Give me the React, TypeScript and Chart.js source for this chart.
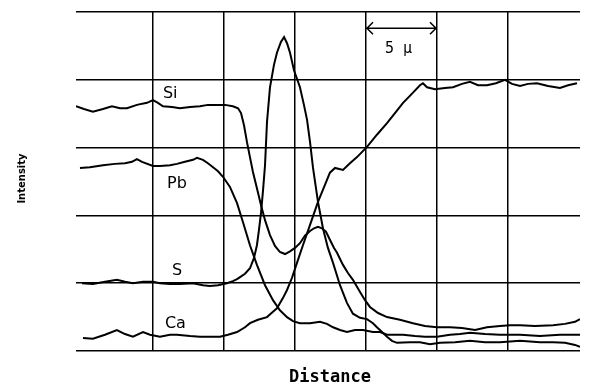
import { useEffect, useRef } from "react";
import { Chart, registerables } from "chart.js";

Chart.register(...registerables);

// Distance (µm) and intensity (grid divisions)
const siliconPoints: [number, number][] = [
  [-0.42, 3.61], [0.14, 3.57], [0.77, 3.53], [1.48, 3.57], [2.11, 3.61], [2.68, 3.58], [3.17, 3.58],
  [3.87, 3.63], [4.58, 3.66], [5.0, 3.7], [5.35, 3.66], [5.7, 3.61], [6.34, 3.6], [6.9, 3.58],
  [7.61, 3.6], [8.31, 3.61], [8.87, 3.63], [9.51, 3.63], [10.07, 3.63], [10.63, 3.61], [10.99, 3.58],
  [11.2, 3.51], [11.41, 3.33], [11.62, 3.08], [11.83, 2.86], [12.04, 2.64], [12.32, 2.4], [12.61, 2.15],
  [12.89, 1.93], [13.24, 1.71], [13.59, 1.55], [13.94, 1.46], [14.3, 1.43], [14.65, 1.47], [15.0, 1.52],
  [15.35, 1.59], [15.7, 1.7], [16.06, 1.77], [16.34, 1.81], [16.62, 1.83], [16.9, 1.81], [17.18, 1.76],
  [17.46, 1.64], [17.75, 1.52], [17.96, 1.45], [18.38, 1.27], [18.73, 1.15], [19.08, 1.05], [19.58, 0.87],
  [19.93, 0.75], [20.28, 0.65], [20.85, 0.56], [21.48, 0.5], [22.39, 0.46], [23.31, 0.41], [24.15, 0.37],
  [25.0, 0.35], [25.92, 0.35], [26.76, 0.34], [27.68, 0.31], [28.52, 0.35], [29.44, 0.37], [30.14, 0.38],
  [30.85, 0.38], [31.9, 0.37], [33.17, 0.38], [34.01, 0.4], [34.72, 0.43], [35.07, 0.47],
];

const leadPoints: [number, number][] = [
  [-0.14, 2.7], [0.56, 2.71], [1.48, 2.74], [2.32, 2.76], [3.03, 2.77], [3.52, 2.79], [3.87, 2.83],
  [4.23, 2.79], [5.0, 2.73], [5.49, 2.73], [6.2, 2.74], [6.69, 2.76], [7.25, 2.79], [7.82, 2.82],
  [8.1, 2.85], [8.52, 2.82], [8.87, 2.77], [9.23, 2.71], [9.58, 2.65], [9.93, 2.57], [10.42, 2.42],
  [10.92, 2.18], [11.34, 1.9], [11.83, 1.56], [12.32, 1.27], [12.89, 0.97], [13.45, 0.75], [13.94, 0.6],
  [14.44, 0.5], [14.86, 0.44], [15.35, 0.41], [16.06, 0.41], [16.76, 0.43], [17.25, 0.4], [17.68, 0.35],
  [18.17, 0.31], [18.66, 0.28], [19.23, 0.31], [19.79, 0.31], [20.49, 0.28], [20.99, 0.28], [21.48, 0.24],
  [22.04, 0.24], [22.61, 0.24], [23.45, 0.22], [24.15, 0.21], [25.0, 0.21], [25.92, 0.24], [26.62, 0.25],
  [27.32, 0.27], [28.38, 0.25], [29.44, 0.24], [30.85, 0.24], [32.25, 0.22], [33.66, 0.24], [35.07, 0.24],
];

const sulfurPoints: [number, number][] = [
  [0.0, 1.0], [0.77, 0.99], [1.62, 1.02], [2.46, 1.05], [3.03, 1.02], [3.59, 1.0], [4.3, 1.02],
  [5.0, 1.02], [5.49, 1.0], [6.2, 0.99], [6.9, 0.99], [7.82, 1.0], [8.52, 0.97], [9.01, 0.96],
  [9.58, 0.97], [10.21, 1.0], [10.63, 1.03], [10.92, 1.06], [11.13, 1.09], [11.48, 1.14], [11.83, 1.22],
  [12.11, 1.37], [12.32, 1.56], [12.46, 1.78], [12.61, 2.04], [12.75, 2.37], [12.89, 2.74], [13.03, 3.38],
  [13.24, 3.89], [13.52, 4.22], [13.73, 4.4], [14.01, 4.56], [14.23, 4.63], [14.44, 4.54], [14.65, 4.4],
  [14.93, 4.14], [15.35, 3.89], [15.63, 3.63], [15.85, 3.41], [16.06, 3.08], [16.27, 2.7], [16.62, 2.2],
  [16.97, 1.81], [17.32, 1.52], [17.68, 1.3], [18.17, 0.97], [18.66, 0.71], [19.08, 0.55], [19.58, 0.49],
  [20.07, 0.47], [20.49, 0.41], [20.77, 0.35], [21.13, 0.28], [21.48, 0.21], [21.83, 0.15], [22.18, 0.12],
  [23.1, 0.13], [23.8, 0.13], [24.51, 0.1], [25.21, 0.12], [26.27, 0.13], [27.32, 0.15], [28.38, 0.13],
  [29.44, 0.13], [30.85, 0.15], [32.25, 0.13], [33.17, 0.13], [34.01, 0.12], [34.72, 0.09], [35.07, 0.06],
];

const calciumPoints: [number, number][] = [
  [0.07, 0.19], [0.77, 0.18], [1.62, 0.24], [2.46, 0.31], [3.03, 0.25], [3.59, 0.21], [4.3, 0.28],
  [4.79, 0.24], [5.49, 0.21], [6.2, 0.24], [6.69, 0.24], [7.61, 0.22], [8.31, 0.21], [9.01, 0.21],
  [9.72, 0.21], [10.28, 0.24], [10.92, 0.28], [11.48, 0.35], [11.83, 0.41], [12.39, 0.46], [13.03, 0.5],
  [13.45, 0.58], [13.73, 0.63], [14.15, 0.78], [14.44, 0.9], [14.79, 1.08], [15.14, 1.3], [15.56, 1.56],
  [16.06, 1.86], [16.62, 2.2], [17.11, 2.45], [17.46, 2.63], [17.82, 2.7], [18.38, 2.67], [18.87, 2.77],
  [19.37, 2.86], [20.07, 3.01], [20.77, 3.19], [21.48, 3.36], [22.04, 3.51], [22.61, 3.66], [23.31, 3.81],
  [23.8, 3.92], [24.01, 3.95], [24.3, 3.89], [24.86, 3.86], [25.56, 3.88], [26.13, 3.89], [26.76, 3.94],
  [27.32, 3.97], [27.89, 3.92], [28.52, 3.92], [29.15, 3.95], [29.79, 4.0], [30.28, 3.94], [30.85, 3.91],
  [31.41, 3.94], [32.04, 3.95], [32.82, 3.91], [33.66, 3.88], [34.23, 3.92], [34.86, 3.95],
];

const seriesNames = ["Si", "Pb", "S", "Ca"];
const labelXValues = [5.7, 5.99, 6.34, 5.84];
const labelYValues = [3.73, 2.4, 1.12, 0.34];

const xGridValues = [5, 10, 15, 20, 25, 30];
const xMin = -0.42;
const xMax = 35.07;
const yMin = 0;
const yMax = 5;

const scaleBarFrom = 20;
const scaleBarTo = 25;
const scaleBarLevel = 4.76;
const scaleBarText = "5 µ";
const scaleTextX = 21.34;
const scaleTextY = 4.4;

const xTitle = "Distance";
const yTitle = "Intensity";

const overlayPlugin = {
  id: "overlay",
  afterDatasetsDraw(chart: any) {
    const { ctx, chartArea } = chart;
    const xs = chart.scales.x;
    const ys = chart.scales.y;
    ctx.save();
    ctx.fillStyle = "#000";
    ctx.strokeStyle = "#000";
    ctx.textAlign = "left";
    ctx.textBaseline = "alphabetic";
    ctx.font = '16px "DejaVu Sans"';
    seriesNames.forEach((name, i) => {
      ctx.fillText(name, xs.getPixelForValue(labelXValues[i]), ys.getPixelForValue(labelYValues[i]));
    });

    const x1 = xs.getPixelForValue(scaleBarFrom);
    const x2 = xs.getPixelForValue(scaleBarTo);
    const yy = ys.getPixelForValue(scaleBarLevel);
    ctx.lineWidth = 1.5;
    ctx.beginPath();
    ctx.moveTo(x1, yy);
    ctx.lineTo(x2, yy);
    ctx.moveTo(x1 + 7, yy - 6);
    ctx.lineTo(x1 + 1, yy);
    ctx.lineTo(x1 + 7, yy + 6);
    ctx.moveTo(x2 - 7, yy - 6);
    ctx.lineTo(x2 - 1, yy);
    ctx.lineTo(x2 - 7, yy + 6);
    ctx.stroke();
    ctx.font = '15px "DejaVu Sans Mono"';
    ctx.fillText(scaleBarText, xs.getPixelForValue(scaleTextX), ys.getPixelForValue(scaleTextY));

    ctx.font = 'bold 17px "DejaVu Sans Mono"';
    ctx.textAlign = "center";
    ctx.fillText(xTitle, (chartArea.left + chartArea.right) / 2 + 2, chartArea.bottom + 31);

    ctx.translate(22, (chartArea.top + chartArea.bottom) / 2 - 3);
    ctx.rotate(-Math.PI / 2);
    ctx.textBaseline = "middle";
    ctx.font = 'bold 10px "DejaVu Sans"';
    ctx.fillText(yTitle, 0, 0);
    ctx.restore();
  },
};

function toData(points: [number, number][]) {
  return points.map(([x, y]) => ({ x, y }));
}

export default function App() {
  const canvasRef = useRef<HTMLCanvasElement | null>(null);

  useEffect(() => {
    if (!canvasRef.current) return;
    const allSeries = [siliconPoints, leadPoints, sulfurPoints, calciumPoints];
    const chart = new Chart(canvasRef.current, {
      type: "line",
      data: {
        datasets: allSeries.map((pts, i) => ({
          label: seriesNames[i],
          data: toData(pts),
          borderColor: "#000",
          borderWidth: 2,
          pointRadius: 0,
          tension: 0,
          fill: false,
        })),
      },
      options: {
        animation: false,
        responsive: false,
        devicePixelRatio: 1,
        layout: { padding: { left: 76, right: 12, top: 12, bottom: 37 } },
        plugins: { legend: { display: false }, tooltip: { enabled: false } },
        scales: {
          x: {
            type: "linear",
            min: xMin,
            max: xMax,
            afterBuildTicks: (scale: any) => {
              scale.ticks = xGridValues.map((v) => ({ value: v }));
            },
            ticks: { display: false },
            grid: { color: "#000", lineWidth: 1.5, drawTicks: false },
            border: { display: false },
          },
          y: {
            type: "linear",
            min: yMin,
            max: yMax,
            ticks: { display: false, stepSize: 1 },
            grid: { color: "#000", lineWidth: 1.5, drawTicks: false },
            border: { display: false },
          },
        },
      } as any,
      plugins: [overlayPlugin],
    });
    return () => chart.destroy();
  }, []);

  return (
    <div style={{ position: "fixed", left: 0, top: 0, width: 592, height: 388, background: "#fff" }}>
      <canvas ref={canvasRef} width={592} height={388} style={{ display: "block" }} />
    </div>
  );
}
